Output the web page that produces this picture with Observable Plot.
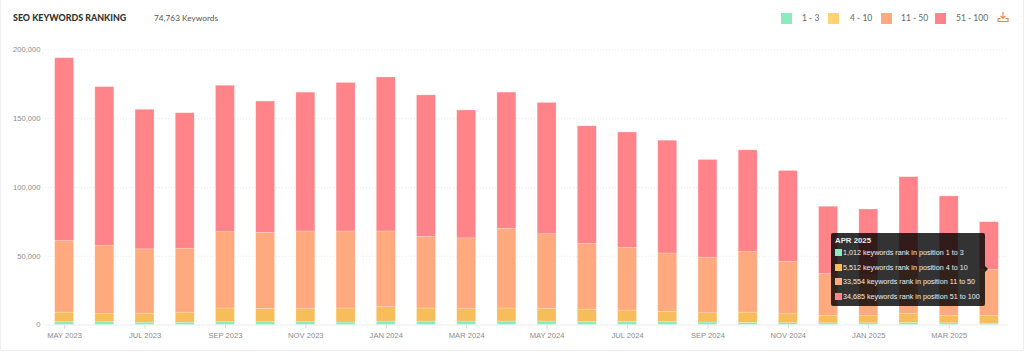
<!DOCTYPE html>
<html>
<head>
<meta charset="utf-8">
<script src="https://cdn.jsdelivr.net/npm/d3@7"></script>
<script src="https://cdn.jsdelivr.net/npm/@observablehq/plot@0.6"></script>
<style>
html,body{margin:0;padding:0;background:#fff;width:1024px;height:355px;overflow:hidden}
#frame{position:absolute;left:0;top:0;width:1022px;height:350px;border-right:1px solid #ececec;border-bottom:1px solid #ececec;border-left:1px solid #f0f0f0;box-sizing:content-box;pointer-events:none}
#head{position:relative;height:38px}
#title{position:absolute;left:13px;top:11px;font:900 8.9px/14px Lato,sans-serif;color:#333}
#sub{position:absolute;left:154px;top:11px;font:400 8.3px/14px Lato,sans-serif;color:#555}
.lg{position:absolute;top:13px;width:11px;height:11px}
.lt{position:absolute;top:11px;font:400 8.5px/14px Lato,sans-serif;color:#666}
#dl{position:absolute;left:997px;top:11px}
#chart{position:absolute;left:0;top:38px}
#tip{position:absolute;left:831px;top:233px;width:154px;height:73px;background:rgba(0,0,0,.8);border-radius:2px;color:#eee;font:400 7.2px/10px "Liberation Sans",Arial,sans-serif}
#tip:after{content:"";position:absolute;left:154px;top:33px;border:3px solid transparent;border-left-color:rgba(0,0,0,.85)}
#tip b{position:absolute;left:4px;top:3px;font-weight:700;font-size:7.8px}
.r{position:absolute;left:3.5px;white-space:nowrap}
.r i{display:inline-block;width:7px;height:7px;margin-right:1.5px;vertical-align:-1px}
</style>
</head>
<body>
<div id="head">
  <div id="title">SEO KEYWORDS RANKING</div>
  <div id="sub">74,763 Keywords</div>
  <div id="legend"></div>
  <svg id="dl" width="12" height="12" viewBox="0 0 12 12" fill="none" stroke="#f47a50" stroke-width="1.1">
    <path d="M6 1V7M3.6 4.8L6 7.2L8.4 4.8M1 7.5V10.5H11V7.5H8.5"/><path d="M1 7.5H3.5"/>
  </svg>
</div>
<div id="chart"></div>
<div id="frame"></div>
<div id="tip"></div>
<script>
const months = ["MAY 2023","JUN 2023","JUL 2023","AUG 2023","SEP 2023","OCT 2023","NOV 2023","DEC 2023",
  "JAN 2024","FEB 2024","MAR 2024","APR 2024","MAY 2024","JUN 2024","JUL 2024","AUG 2024","SEP 2024","OCT 2024","NOV 2024","DEC 2024",
  "JAN 2025","FEB 2025","MAR 2025","APR 2025"];
const tickMonths = ["MAY 2023","JUL 2023","SEP 2023","NOV 2023","JAN 2024","MAR 2024","MAY 2024","JUL 2024","SEP 2024","NOV 2024","JAN 2025","MAR 2025"];
const yTicks = [0,50000,100000,150000,200000];
const rank1to3 = [2000,2000,1700,1700,2000,2000,2000,1800,2500,2500,2500,2500,2500,2200,2200,2200,1800,1500,1300,1200,1200,1500,1200,1012];
const rank4to10 = [7000,6000,6300,7300,10000,9700,9500,10200,10500,9500,9000,9500,9200,8600,8300,7300,6700,7500,6500,5500,5500,6500,5500,5512];
const rank11to50 = [52000,49500,47000,46500,55500,55300,56500,56000,55000,52000,51500,58000,54300,48200,45500,42500,40500,44000,38200,30300,29300,34000,33300,33554];
const rank51to100 = [133000,115500,101500,98500,106500,95500,101000,108000,112000,103000,93000,99000,95500,85500,84000,82000,71000,74000,66000,49000,48000,65500,53500,34685];
const seriesNames = ["1 - 3","4 - 10","11 - 50","51 - 100"];
const seriesColors = ["#8ceabf","#f6bd5a","#ffa97f","#ff8489"];
const legendColors = ["#8ceabf","#ffd36e","#ffa97f","#ff8489"];
const legendSwatchX = [781,828,881,935];
const legendTextX = [802,850,901,956];
const tipTitle = "APR 2025";
const tipLines = ["1,012 keywords rank in position 1 to 3","5,512 keywords rank in position 4 to 10","33,554 keywords rank in position 11 to 50","34,685 keywords rank in position 51 to 100"];

const allSeries = [rank1to3,rank4to10,rank11to50,rank51to100];
const rows = allSeries.flatMap((vals,s)=>vals.map((v,i)=>({month:months[i],value:v,series:seriesNames[s]})));

const plot = Plot.plot({
  width:1024,height:317,marginLeft:45,marginRight:16,marginTop:11.5,marginBottom:30.5,
  style:{background:"transparent",fontFamily:"'Liberation Sans',Arial,sans-serif",fontSize:"7.6px",color:"#8a8a8a"},
  x:{type:"band",domain:months,paddingInner:0.53,paddingOuter:0.24,round:false,label:null},
  y:{domain:[0,200000],label:null},
  color:{domain:seriesNames,range:seriesColors},
  marks:[
    Plot.ruleY(yTicks.slice(1),{stroke:"#e9e9e9",strokeDasharray:"1 2",strokeWidth:1}),
    Plot.ruleY([0],{stroke:"#ececec"}),
    Plot.barY(rows,{x:"month",y:"value",fill:"series",order:seriesNames,stroke:"#fff",strokeOpacity:.35,strokeWidth:.6}),
    Plot.axisY({ticks:yTicks,tickFormat:d3.format(","),tickSize:0,tickPadding:5,label:null,anchor:"left"}),
    Plot.axisX({ticks:tickMonths,tickSize:4,tickPadding:4,stroke:"#d5d5d5",label:null})
  ]
});
document.getElementById("chart").appendChild(plot);

const lg = document.getElementById("legend");
seriesNames.forEach((n,i)=>{
  const sw=document.createElement("div");sw.className="lg";sw.style.left=legendSwatchX[i]+"px";sw.style.background=legendColors[i];lg.appendChild(sw);
  const t=document.createElement("div");t.className="lt";t.style.left=legendTextX[i]+"px";t.textContent=n;lg.appendChild(t);
});
const tip=document.getElementById("tip");
const b=document.createElement("b");b.textContent=tipTitle;tip.appendChild(b);
tipLines.forEach((l,i)=>{
  const r=document.createElement("div");r.className="r";r.style.top=(15+i*14.7)+"px";
  const sw=document.createElement("i");sw.style.background=seriesColors[i];r.appendChild(sw);
  r.appendChild(document.createTextNode(l));tip.appendChild(r);
});
</script>
</body>
</html>
